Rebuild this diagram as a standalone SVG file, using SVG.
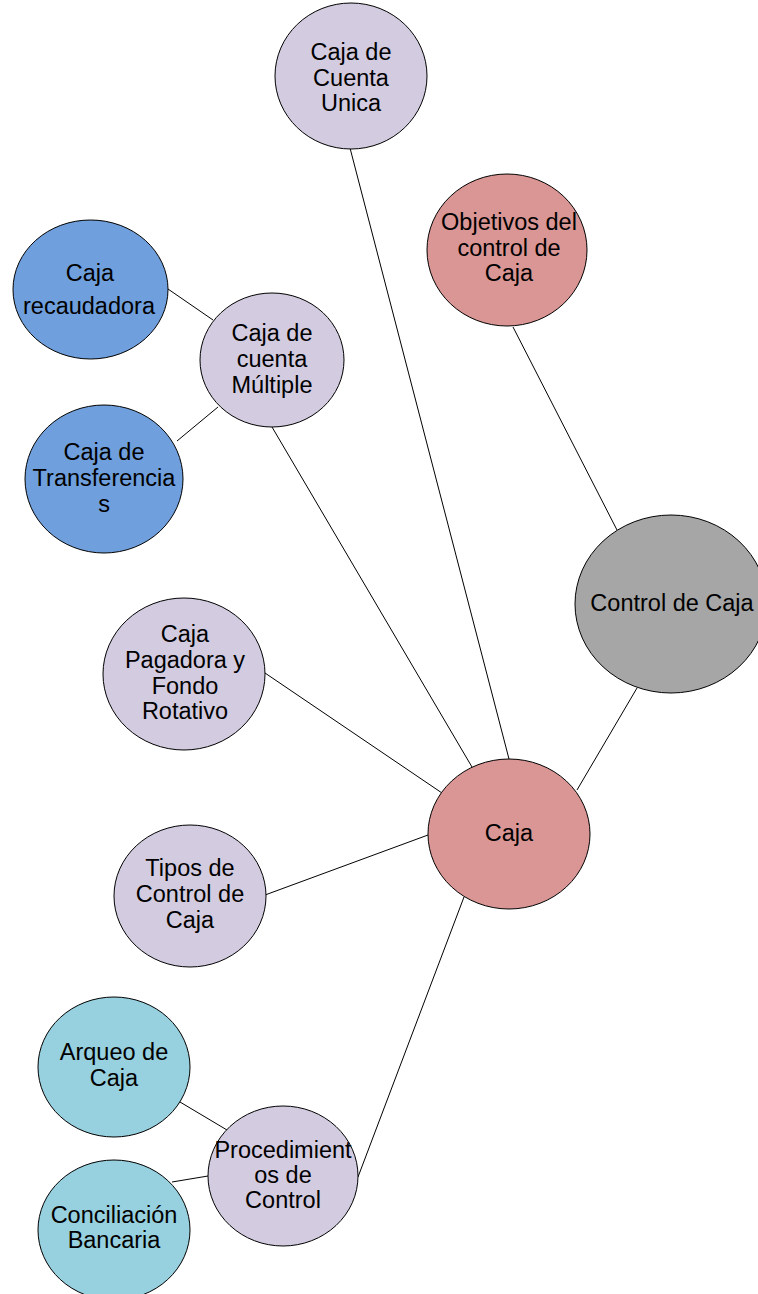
<svg xmlns="http://www.w3.org/2000/svg" width="758" height="1294" viewBox="0 0 758 1294">
<style>
.n{stroke:#000;stroke-width:1}
.lav{fill:#d3cce0}.blue{fill:#6f9fdc}.sal{fill:#d99694}.gray{fill:#a6a6a6}.cyan{fill:#97d0de}
text{font-family:"Liberation Sans",Arial,sans-serif;font-size:23.5px;fill:#000;text-anchor:middle}
#edges line{stroke:#000;stroke-width:1}
</style>
<rect width="758" height="1294" fill="#fff"/>
<g id="edges">
<line x1="350" y1="148" x2="509" y2="759"/>
<line x1="513" y1="327" x2="617" y2="530"/>
<line x1="637" y1="688" x2="577" y2="790"/>
<line x1="168" y1="289" x2="213" y2="320"/>
<line x1="177" y1="441" x2="218" y2="407"/>
<line x1="272" y1="427" x2="472" y2="767"/>
<line x1="265" y1="673" x2="442" y2="793"/>
<line x1="265" y1="895" x2="428" y2="835"/>
<line x1="464" y1="897" x2="358" y2="1177"/>
<line x1="180" y1="1102" x2="227" y2="1130"/>
<line x1="172" y1="1182" x2="208" y2="1176"/>
</g>
<g id="cuenta-unica"><ellipse class="n lav" cx="351" cy="76" rx="76" ry="73"/><text x="351" y="60">Caja de</text><text x="351" y="86">Cuenta</text><text x="351" y="111">Unica</text></g>
<g id="objetivos"><ellipse class="n sal" cx="507" cy="250" rx="80" ry="76"/><text x="509" y="230">Objetivos del</text><text x="509" y="256">control de</text><text x="509" y="281">Caja</text></g>
<g id="recaudadora"><ellipse class="n blue" cx="90.5" cy="289.5" rx="77.5" ry="69.5"/><text x="90" y="281">Caja</text><text x="89" y="314">recaudadora</text></g>
<g id="multiple"><ellipse class="n lav" cx="272" cy="360" rx="72" ry="67"/><text x="272" y="341">Caja de</text><text x="272" y="367">cuenta</text><text x="272" y="393">Múltiple</text></g>
<g id="transferencias"><ellipse class="n blue" cx="104" cy="479" rx="79" ry="74"/><text x="104" y="460">Caja de</text><text x="104" y="486">Transferencia</text><text x="104" y="512">s</text></g>
<g id="control-caja"><ellipse class="n gray" cx="671" cy="604" rx="96" ry="89"/><text x="672" y="611">Control de Caja</text></g>
<g id="pagadora"><ellipse class="n lav" cx="184" cy="674" rx="81" ry="76"/><text x="185" y="642">Caja</text><text x="185" y="668">Pagadora y</text><text x="185" y="694">Fondo</text><text x="185" y="719">Rotativo</text></g>
<g id="caja"><ellipse class="n sal" cx="509" cy="834" rx="81" ry="75"/><text x="509" y="841">Caja</text></g>
<g id="tipos"><ellipse class="n lav" cx="190" cy="896" rx="76" ry="71"/><text x="190" y="876">Tipos de</text><text x="190" y="902">Control de</text><text x="190" y="928">Caja</text></g>
<g id="arqueo"><ellipse class="n cyan" cx="114" cy="1067" rx="76" ry="70"/><text x="114" y="1060">Arqueo de</text><text x="114" y="1086">Caja</text></g>
<g id="procedimientos"><ellipse class="n lav" cx="283" cy="1176" rx="75" ry="70"/><text x="283" y="1158">Procedimient</text><text x="283" y="1183">os de</text><text x="283" y="1208">Control</text></g>
<g id="conciliacion"><ellipse class="n cyan" cx="114" cy="1230" rx="76" ry="70"/><text x="114" y="1223">Conciliación</text><text x="114" y="1248">Bancaria</text></g>
</svg>
